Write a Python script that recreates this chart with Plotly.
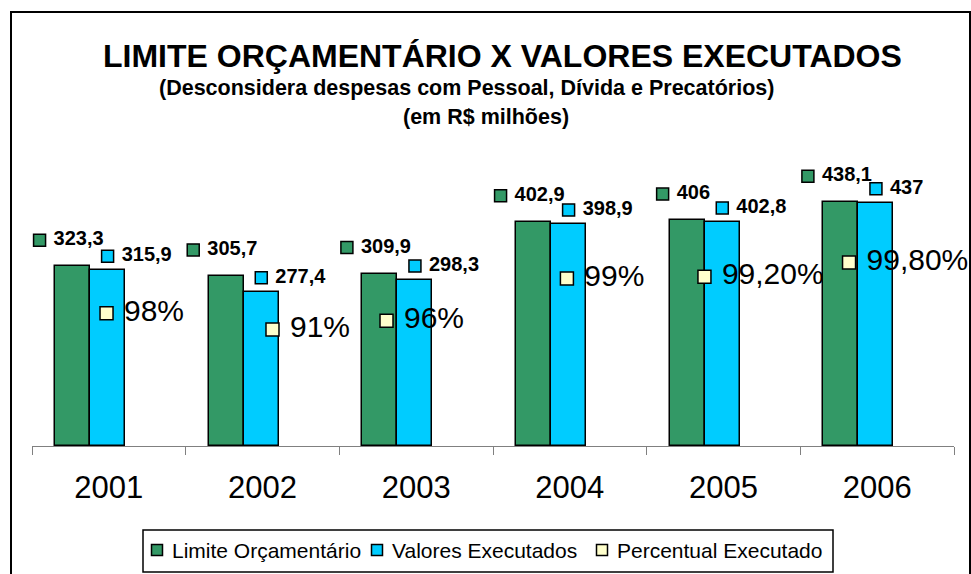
import plotly.graph_objects as go
import numpy as np

# ---------------- data ----------------
anos = ["2001", "2002", "2003", "2004", "2005", "2006"]
limite_orcamentario = [323.3, 305.7, 309.9, 402.9, 406.0, 438.1]
valores_executados = [315.9, 277.4, 298.3, 398.9, 402.8, 437.0]
percentual_executado = ["98%", "91%", "96%", "99%", "99,20%", "99,80%"]

titulo = "LIMITE ORÇAMENTÁRIO X VALORES EXECUTADOS"
subtitulo1 = "(Desconsidera despesas com Pessoal, Dívida e Precatórios)"
subtitulo2 = "(em R$ milhões)"
legenda = ["Limite Orçamentário", "Valores Executados", "Percentual Executado"]

# ---------------- style ----------------
W, H = 971, 574
ML, MR, MT, MB = 32, 17, 140, 128
PW, PH = W - ML - MR, H - MT - MB
YMAX = 550.0
FONT = "Liberation Sans"
VERDE = "#339966"
AZUL = "#00CCFF"
AMARELO = "#FFFFCC"

# horizontal nudges of the (hand-placed) percent labels, in category units
pct_label_shift = [-0.007, 0.073, -0.185, -0.011, -0.116, -0.175]

cat_px = PW / len(anos)          # pixels per category
y_px = PH / YMAX                 # pixels per unit


def fmt(v):
    return f"{v:g}".replace(".", ",")


def px_x(px):
    return (px - ML) / PW


def px_y(py):
    return (H - MB - py) / PH


idx = np.arange(len(anos))
bw = 0.228
off_g = -0.35
off_b = off_g + bw
cg = idx + off_g + bw / 2       # green bar centres
cb = idx + off_b + bw / 2       # blue bar centres

fig = go.Figure()
bar_line = dict(color="black", width=1.5)
fig.add_trace(go.Bar(x=idx, y=limite_orcamentario, width=bw, offset=off_g,
                     marker=dict(color=VERDE, line=bar_line), showlegend=False))
fig.add_trace(go.Bar(x=idx, y=valores_executados, width=bw, offset=off_b,
                     marker=dict(color=AZUL, line=bar_line), showlegend=False))

lab_font = dict(family=FONT, size=20, color="black", weight="bold")
sq_line = dict(color="black", width=1.5)

# green value labels (centred above the green bars)
g_txt = [fmt(v) for v in limite_orcamentario]
g_x = [c + (-12 - 4.2 * len(t)) / cat_px for c, t in zip(cg, g_txt)]
g_y = [v + 26 / y_px for v in limite_orcamentario]
fig.add_trace(go.Scatter(
    x=g_x, y=g_y, mode="markers+text", text=["\u00a0" + t for t in g_txt],
    textposition="middle right", textfont=lab_font,
    marker=dict(symbol="square", size=12, color=VERDE, line=sq_line),
    showlegend=False, cliponaxis=False))

# blue value labels
b_txt = [fmt(v) for v in valores_executados]
b_y = [v + 14 / y_px for v in valores_executados]
fig.add_trace(go.Scatter(
    x=cb, y=b_y, mode="markers+text", text=["\u00a0" + t for t in b_txt],
    textposition="middle right", textfont=lab_font,
    marker=dict(symbol="square", size=12, color=AZUL, line=sq_line),
    showlegend=False, cliponaxis=False))

# percent labels
p_x = [c + s for c, s in zip(cb, pct_label_shift)]
p_y = [0.755 * v for v in valores_executados]
fig.add_trace(go.Scatter(
    x=p_x, y=p_y, mode="markers+text", text=["\u00a0" + t for t in percentual_executado],
    textposition="middle right", textfont=dict(family=FONT, size=30, color="black"),
    marker=dict(symbol="square", size=13, color=AMARELO, line=sq_line),
    showlegend=False, cliponaxis=False))

shapes = []
annotations = []

# outer chart border
shapes.append(dict(type="rect", xref="paper", yref="paper",
                   x0=px_x(11), x1=px_x(970), y0=px_y(600), y1=px_y(12),
                   line=dict(color="black", width=2), fillcolor="rgba(0,0,0,0)", layer="below"))

# titles
annotations.append(dict(text=f"<b>{titulo}</b>", x=px_x(502), y=px_y(56), xref="paper", yref="paper",
                        showarrow=False, xanchor="center", yanchor="middle",
                        font=dict(family=FONT, size=32, color="black")))
annotations.append(dict(text=f"<b>{subtitulo1}</b>", x=px_x(466), y=px_y(88), xref="paper", yref="paper",
                        showarrow=False, xanchor="center", yanchor="middle",
                        font=dict(family=FONT, size=21.5, color="black")))
annotations.append(dict(text=f"<b>{subtitulo2}</b>", x=px_x(486), y=px_y(117), xref="paper", yref="paper",
                        showarrow=False, xanchor="center", yanchor="middle",
                        font=dict(family=FONT, size=21.5, color="black")))

# manual legend
shapes.append(dict(type="rect", xref="paper", yref="paper",
                   x0=px_x(143), x1=px_x(833), y0=px_y(572), y1=px_y(530),
                   line=dict(color="black", width=1.5), fillcolor="white"))
leg_sq = [157, 377, 602]
leg_tx = [170, 390, 615]
leg_col = [VERDE, AZUL, AMARELO]
for sx, tx, col, name in zip(leg_sq, leg_tx, leg_col, legenda):
    shapes.append(dict(type="rect", xref="paper", yref="paper",
                       x0=px_x(sx - 5.5), x1=px_x(sx + 5.5), y0=px_y(555.5), y1=px_y(544.5),
                       line=dict(color="black", width=1.5), fillcolor=col))
    annotations.append(dict(text=name, x=px_x(tx), y=px_y(550), xref="paper", yref="paper",
                            showarrow=False, xanchor="left", yanchor="middle",
                            font=dict(family=FONT, size=21, color="black")))

fig.update_layout(
    width=W, height=H,
    margin=dict(l=ML, r=MR, t=MT, b=MB),
    paper_bgcolor="white", plot_bgcolor="white",
    shapes=shapes, annotations=annotations,
    font=dict(family=FONT, color="black"),
    xaxis=dict(range=[-0.5, len(anos) - 0.5], tickvals=idx, ticktext=anos, ticks="",
               showline=True, linecolor="#808080", linewidth=1, showgrid=False, zeroline=False,
               tickfont=dict(family=FONT, size=31, color="black"), ticklabelstandoff=14,
               minor=dict(tickvals=list(np.arange(-0.5, len(anos))), ticks="outside",
                          ticklen=8, tickcolor="#808080", tickwidth=1, showgrid=False),
               fixedrange=True),
    yaxis=dict(range=[0, YMAX], visible=False, fixedrange=True),
    bargap=0, showlegend=False,
)

fig.write_html("out.html", config={"displayModeBar": False},
               post_script="document.body.style.margin='0';document.body.style.overflow='hidden';")
